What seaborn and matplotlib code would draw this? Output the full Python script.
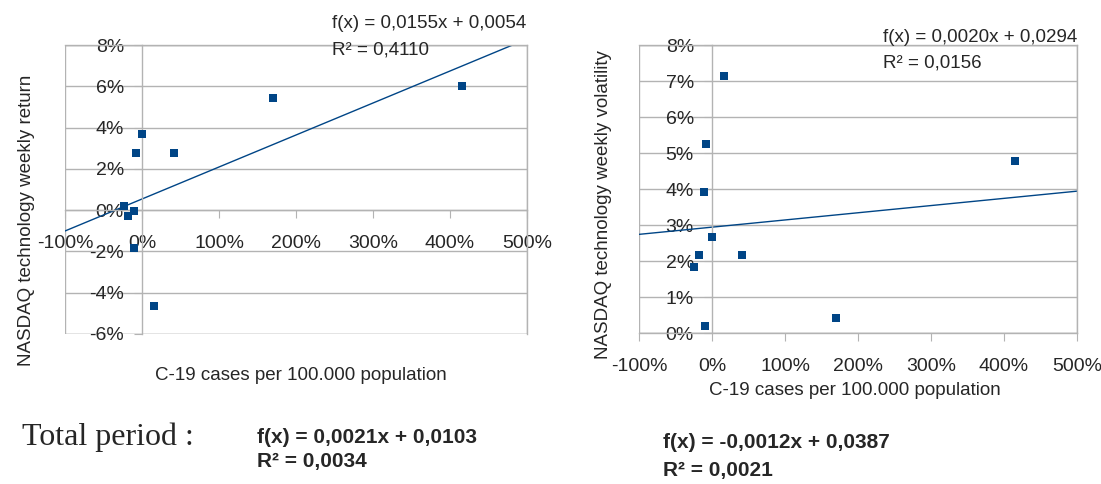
import matplotlib
matplotlib.use("Agg")
import matplotlib.pyplot as plt
import seaborn as sns
import pandas as pd
from matplotlib.patches import Rectangle
from matplotlib.ticker import FuncFormatter, MultipleLocator

# C-19 cases per 100.000 population (weekly change, %)
cases_pct = [415, 170, 0, -8, 41, -24, -18, -10, -11, 16]
# NASDAQ technology weekly return (%)
return_pct = [6.03, 5.45, 3.70, 2.78, 2.78, 0.21, -0.30, -0.05, -1.85, -4.63]
# NASDAQ technology weekly volatility (%)
volat_pct = [4.77, 0.41, 2.66, 5.25, 2.18, 1.82, 2.18, 0.20, 3.92, 7.14]

# trend lines (slope, intercept) as printed on the chart
ret_fit = (0.0155, 0.0054)
vol_fit = (0.0020, 0.0294)
fit_x = [-100, 500]

ret_eq = ["f(x) = 0,0155x + 0,0054", "R² = 0,4110"]
vol_eq = ["f(x) = 0,0020x + 0,0294", "R² = 0,0156"]
total_ret_eq = ["f(x) = 0,0021x + 0,0103", "R² = 0,0034"]
total_vol_eq = ["f(x) = -0,0012x + 0,0387", "R² = 0,0021"]

sns.set_style("white")
plt.rcParams['font.family'] = ['Liberation Sans', 'DejaVu Sans']
plt.rcParams['axes.unicode_minus'] = False

BLUE = '#004586'
GRID = '#b3b3b3'
W, H = 1101, 484

fig = plt.figure(figsize=(W / 100, H / 100), dpi=100)
ax1 = fig.add_axes([65 / W, 1 - 334 / H, (527 - 65) / W, (334 - 45) / H])
ax2 = fig.add_axes([639 / W, 1 - 333 / H, (1077 - 639) / W, (333 - 45) / H])


def style_axis(ax, ylim, ystep):
    ax.set_xlim(-100, 500)
    ax.set_ylim(*ylim)
    ax.xaxis.set_major_locator(MultipleLocator(100))
    ax.yaxis.set_major_locator(MultipleLocator(ystep))
    ax.xaxis.set_major_formatter(FuncFormatter(lambda v, p: f"{v:.0f}%"))
    ax.yaxis.set_major_formatter(FuncFormatter(lambda v, p: f"{v:.0f}%"))
    ax.grid(axis='y', color=GRID, lw=1)
    ax.grid(axis='x', visible=False)
    for s in ['left', 'bottom']:
        ax.spines[s].set_position(('data', 0))
    for s in ax.spines.values():
        s.set_color(GRID)
        s.set_linewidth(1)
    ax.add_patch(Rectangle((0, 0), 1, 1, transform=ax.transAxes, fill=False,
                           edgecolor=GRID, lw=1, zorder=0.5))
    ax.tick_params(axis='x', direction='out', length=6, color=GRID,
                   labelsize=14, pad=12, bottom=True)
    ax.tick_params(axis='y', direction='out', length=6, color=GRID,
                   labelsize=14, pad=7, left=True)
    ax.set_axisbelow(True)


# left: weekly return
df1 = pd.DataFrame({'cases': cases_pct, 'ret': return_pct})
line1 = pd.DataFrame({'x': fit_x,
                      'y': [ret_fit[0] * v + 100 * ret_fit[1] for v in fit_x]})
sns.lineplot(data=line1, x='x', y='y', ax=ax1, color=BLUE, lw=1)
sns.scatterplot(data=df1, x='cases', y='ret', ax=ax1, marker='s', s=30,
                color=BLUE, edgecolor=BLUE, linewidth=0, zorder=3)
style_axis(ax1, (-6, 8), 2)
ax1.set_xlabel("C-19 cases per 100.000 population", fontsize=13.5)
ax1.set_ylabel("NASDAQ technology weekly return", fontsize=13.5, va='center')
ax1.xaxis.set_label_coords(0.51, -0.114)
ax1.yaxis.set_label_coords(-0.083, 0.394)

# right: weekly volatility
df2 = pd.DataFrame({'cases': cases_pct, 'vol': volat_pct})
line2 = pd.DataFrame({'x': fit_x,
                      'y': [vol_fit[0] * v + 100 * vol_fit[1] for v in fit_x]})
sns.lineplot(data=line2, x='x', y='y', ax=ax2, color=BLUE, lw=1)
sns.scatterplot(data=df2, x='cases', y='vol', ax=ax2, marker='s', s=30,
                color=BLUE, edgecolor=BLUE, linewidth=0, zorder=3)
style_axis(ax2, (0, 8), 1)
ax2.set_xlabel("C-19 cases per 100.000 population", fontsize=13.5)
ax2.set_ylabel("NASDAQ technology weekly volatility", fontsize=13.5, va='center')
ax2.xaxis.set_label_coords(0.493, -0.170)
ax2.yaxis.set_label_coords(-0.080, 0.446)

# equations on the charts
fig.text(332 / W, 1 - 23 / H, ret_eq[0], fontsize=13.5, va='center')
fig.text(332 / W, 1 - 50 / H, ret_eq[1], fontsize=13.5, va='center')
fig.text(883 / W, 1 - 37 / H, vol_eq[0], fontsize=13.5, va='center')
fig.text(883 / W, 1 - 63 / H, vol_eq[1], fontsize=13.5, va='center')

# total period summary
fig.text(22 / W, 1 - 445 / H, "Total period :", fontsize=23,
         family=['Liberation Serif', 'DejaVu Serif'], va='baseline')
fig.text(257 / W, 1 - 443 / H, total_ret_eq[0], fontsize=15, weight='bold', va='baseline')
fig.text(257 / W, 1 - 467 / H, total_ret_eq[1], fontsize=15, weight='bold', va='baseline')
fig.text(663 / W, 1 - 448 / H, total_vol_eq[0], fontsize=15, weight='bold', va='baseline')
fig.text(663 / W, 1 - 476 / H, total_vol_eq[1], fontsize=15, weight='bold', va='baseline')

fig.savefig("out.png", dpi=100)
